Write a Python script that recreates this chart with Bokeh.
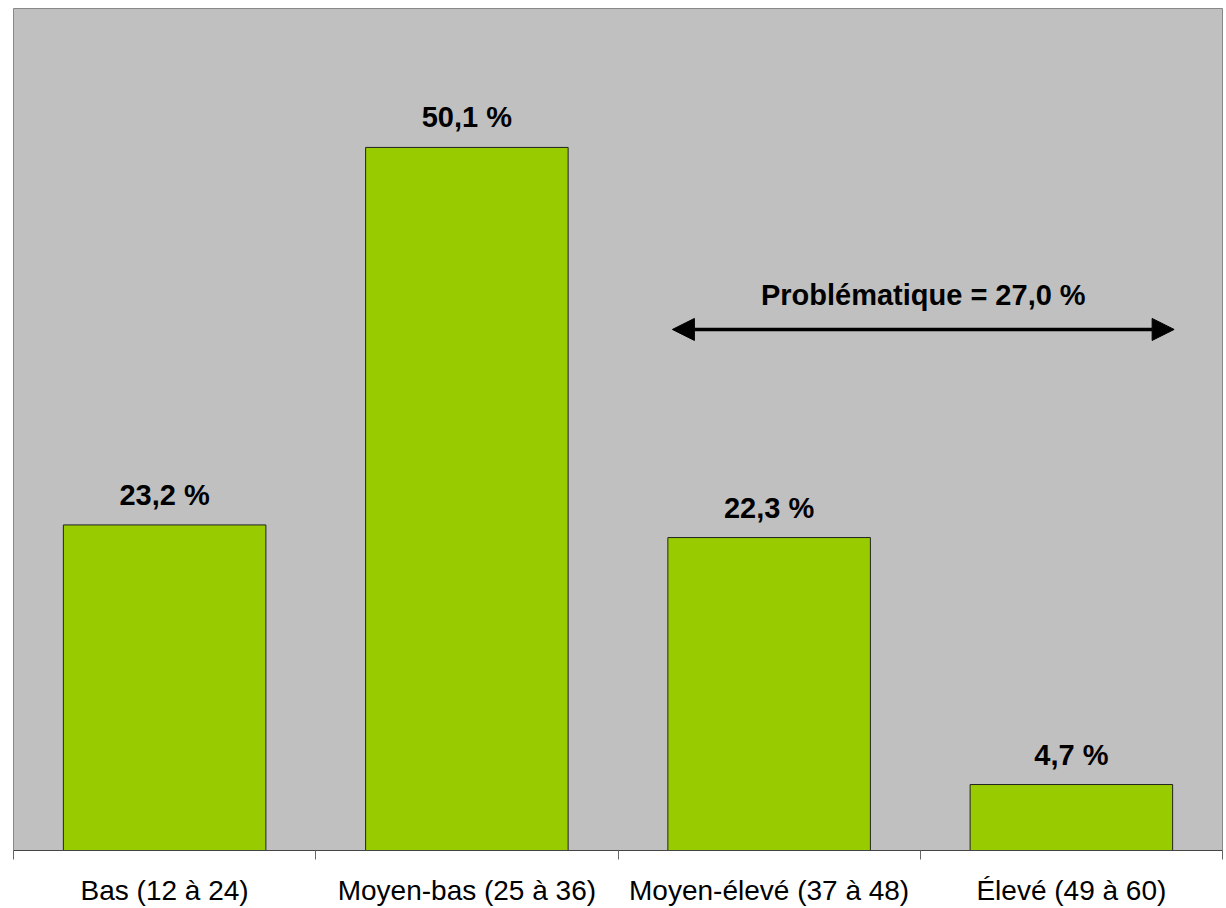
from bokeh.plotting import figure
from bokeh.models import ColumnDataSource, FixedTicker, Range1d, Arrow, NormalHead, Label
from bokeh.core.properties import value
from bokeh.embed import file_html
from bokeh.resources import INLINE

# ---- data ----
categories = ["Bas (12 à 24)", "Moyen-bas (25 à 36)", "Moyen-élevé (37 à 48)", "Élevé (49 à 60)"]
percentages = [23.2, 50.1, 22.3, 4.7]
value_labels = ["23,2 %", "50,1 %", "22,3 %", "4,7 %"]
annotation_text = "Problématique = 27,0 %"
annotation_y_text = 39.6
annotation_y_arrow = 37.13
annotation_x_start = 2.18
annotation_x_end = 3.84
y_max = 60

centers = [i + 0.5 for i in range(len(categories))]
boundaries = list(range(len(categories) + 1))

src = ColumnDataSource(dict(x=centers, top=percentages, label=value_labels))

FONT = "Liberation Sans"

p = figure(width=1226, height=908, output_backend="svg", toolbar_location=None,
           x_range=Range1d(0, len(categories)), y_range=Range1d(0, y_max),
           min_border_left=13, min_border_right=4, min_border_top=8, min_border_bottom=58)
p.background_fill_color = "#C0C0C0"
p.border_fill_color = "white"
p.outline_line_color = "#888888"
p.outline_line_width = 1
p.xgrid.visible = False
p.ygrid.visible = False
p.yaxis.visible = False

p.vbar(x="x", top="top", width=0.67, bottom=0, source=src,
       fill_color="#99CC00", line_color="#222222", line_width=1)

p.text(x="x", y="top", text="label", source=src, y_offset=-30,
       text_align="center", text_baseline="alphabetic",
       text_font=value(FONT), text_font_style="bold", text_font_size="29px", text_color="black")

ax = p.xaxis[0]
ax.ticker = FixedTicker(ticks=centers, minor_ticks=boundaries)
ax.major_label_overrides = {c: lab for c, lab in zip(centers, categories)}
ax.major_tick_line_color = None
ax.major_tick_out = 0
ax.major_tick_in = 0
ax.minor_tick_out = 9
ax.minor_tick_in = 0
ax.minor_tick_line_color = "#666666"
ax.axis_line_color = "#444444"
ax.axis_line_width = 1
ax.major_label_text_font = FONT
ax.major_label_text_font_size = "28px"
ax.major_label_text_color = "black"
ax.major_label_standoff = 15

p.add_layout(Arrow(start=NormalHead(size=22, fill_color="black", line_color="black"),
                   end=NormalHead(size=22, fill_color="black", line_color="black"),
                   x_start=annotation_x_start, y_start=annotation_y_arrow,
                   x_end=annotation_x_end, y_end=annotation_y_arrow,
                   line_width=3.5, line_color="black"))
p.add_layout(Label(x=(annotation_x_start + annotation_x_end) / 2, y=annotation_y_text,
                   text=annotation_text, text_align="center", text_baseline="alphabetic",
                   text_font=FONT, text_font_style="bold", text_font_size="29px",
                   text_color="black"))

open("out.html", "w").write(file_html(p, INLINE))
